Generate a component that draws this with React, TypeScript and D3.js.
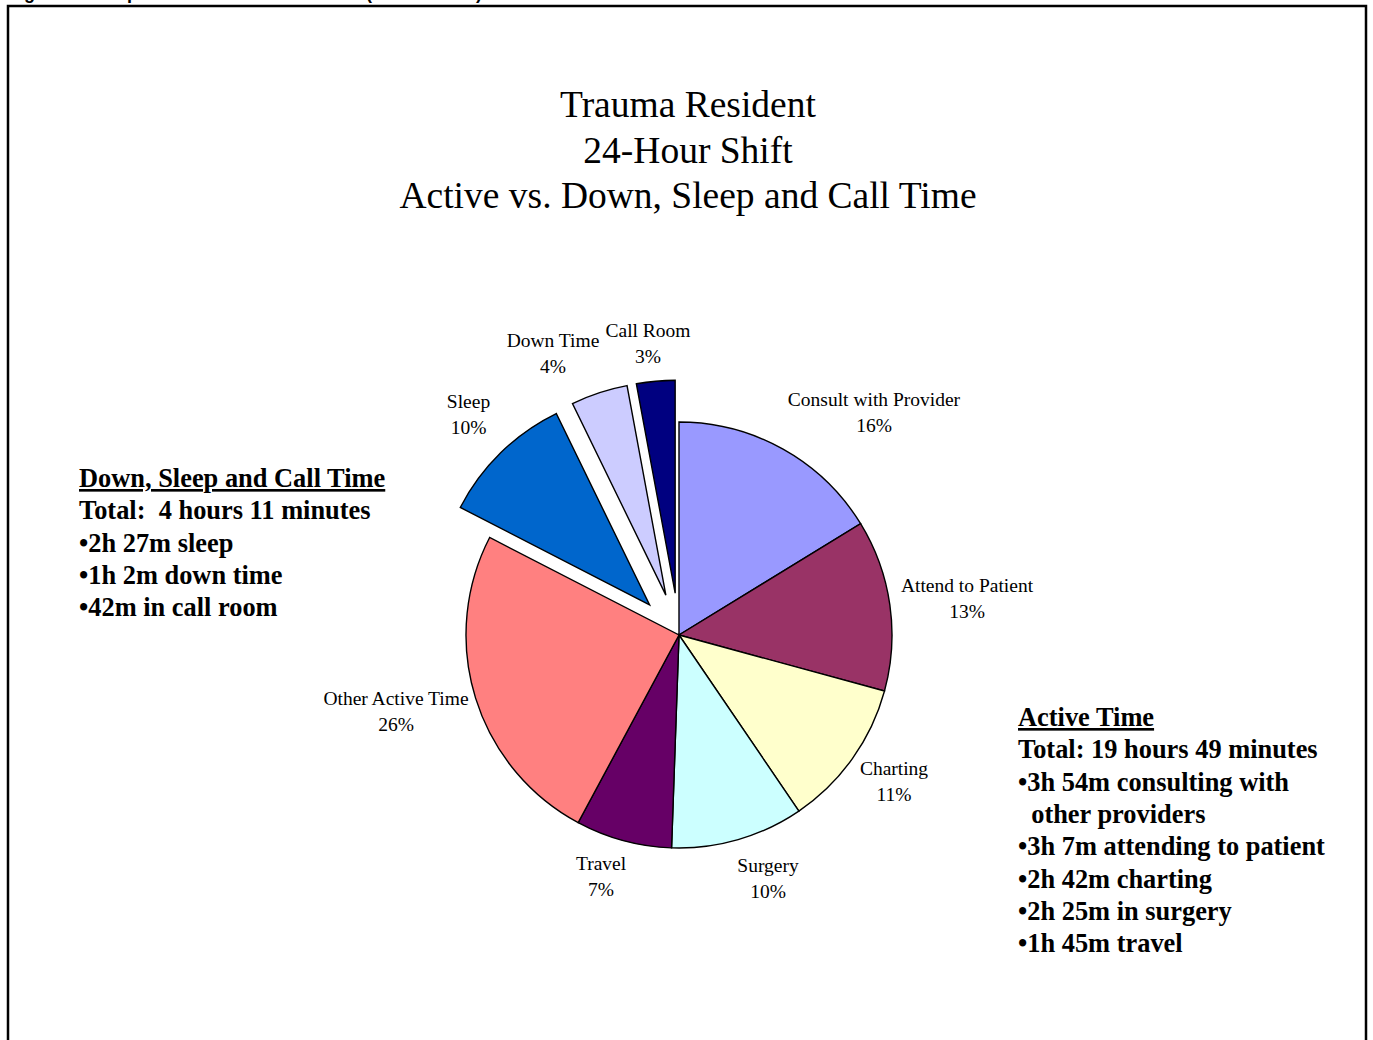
import React from "react";
import * as d3 from "d3";

const categories = [
  "Consult with Provider",
  "Attend to Patient",
  "Charting",
  "Surgery",
  "Travel",
  "Other Active Time",
  "Sleep",
  "Down Time",
  "Call Room",
];
const minutes = [234, 187, 162, 145, 105, 356, 147, 62, 42];
const percentLabels = ["16%", "13%", "11%", "10%", "7%", "26%", "10%", "4%", "3%"];
const explodedFlags = [false, false, false, false, false, false, true, true, true];

const titleLines = ["Trauma Resident", "24-Hour Shift", "Active vs. Down, Sleep and Call Time"];
const downLines = [
  "Total:  4 hours 11 minutes",
  "\u20222h 27m sleep",
  "\u20221h 2m down time",
  "\u202242m in call room",
];
const activeLines = [
  "Total: 19 hours 49 minutes",
  "\u20223h 54m consulting with",
  "  other providers",
  "\u20223h 7m attending to patient",
  "\u20222h 42m charting",
  "\u20222h 25m in surgery",
  "\u20221h 45m travel",
];

// styling / layout (not data)
const colors = ["#9999FF", "#993366", "#FFFFCC", "#CCFFFF", "#660066", "#FF8080", "#0066CC", "#CCCCFF", "#000080"];
const labelOffsets: [number, number][] = [
  [195, -216],
  [288, -30],
  [215, 153],
  [89, 250],
  [-78, 247.5],
  [-283, 82.5],
  [-210.5, -214.5],
  [-126, -274.7],
  [-31, -285.3],
];

const W = 1373;
const H = 1040;
const CX = 679;
const CY = 635;
const R = 213;
const EXPLODE = 42;

export default function App() {
  const pie = d3.pie<number>().sort(null).value((d) => d).startAngle(0).endAngle(2 * Math.PI);
  const arcs = pie(minutes);
  const arc = d3.arc<d3.PieArcDatum<number>>().innerRadius(0).outerRadius(R);

  const serif = "'Liberation Serif', 'Times New Roman', Times, serif";

  return (
    <svg
      width={W}
      height={H}
      style={{ position: "absolute", left: 0, top: 0, background: "#fff" }}
      xmlns="http://www.w3.org/2000/svg"
    >
      <rect x={0} y={0} width={W} height={H} fill="#fff" />
      <text
        x={8}
        y={-1}
        fontFamily="'Liberation Sans', Arial, sans-serif"
        fontWeight="bold"
        fontSize={18}
        fill="#000"
      >
        Figure 3: Sample Chart: Trauma Resident (Trauma Unit)
      </text>
      <rect x={8} y={6} width={1358} height={H + 20} fill="none" stroke="#000" strokeWidth={2.5} />

      {titleLines.map((t, i) => (
        <text
          key={i}
          x={688}
          y={117 + i * 45.5}
          textAnchor="middle"
          fontFamily={serif}
          fontSize={37.5}
          fill="#000"
        >
          {t}
        </text>
      ))}

      <g transform={`translate(${CX},${CY})`}>
        {arcs.map((a, i) => {
          const mid = (a.startAngle + a.endAngle) / 2;
          const off = explodedFlags[i] ? EXPLODE : 0;
          const tx = Math.sin(mid) * off;
          const ty = -Math.cos(mid) * off;
          return (
            <path
              key={i}
              d={arc(a) || ""}
              transform={`translate(${tx},${ty})`}
              fill={colors[i]}
              stroke="#000"
              strokeWidth={1.4}
              strokeLinejoin="miter"
            />
          );
        })}
        {categories.map((c, i) => (
          <text
            key={i}
            x={labelOffsets[i][0]}
            y={labelOffsets[i][1]}
            textAnchor="middle"
            fontFamily={serif}
            fontSize={19.5}
            fill="#000"
          >
            <tspan x={labelOffsets[i][0]} dy={-13}>
              {c}
            </tspan>
            <tspan x={labelOffsets[i][0]} dy={26}>
              {percentLabels[i]}
            </tspan>
          </text>
        ))}
      </g>

      <g fontFamily={serif} fontWeight="bold" fontSize={26.4} fill="#000">
        <text x={79} y={487} textDecoration="underline">
          Down, Sleep and Call Time
        </text>
        {downLines.map((t, i) => (
          <text key={i} x={79} y={487 + (i + 1) * 32.3} style={{ whiteSpace: "pre" }}>
            {t}
          </text>
        ))}
        <text x={1018} y={726} textDecoration="underline">
          Active Time
        </text>
        {activeLines.map((t, i) => (
          <text key={i} x={1018} y={726 + (i + 1) * 32.3} style={{ whiteSpace: "pre" }}>
            {t}
          </text>
        ))}
      </g>
    </svg>
  );
}
